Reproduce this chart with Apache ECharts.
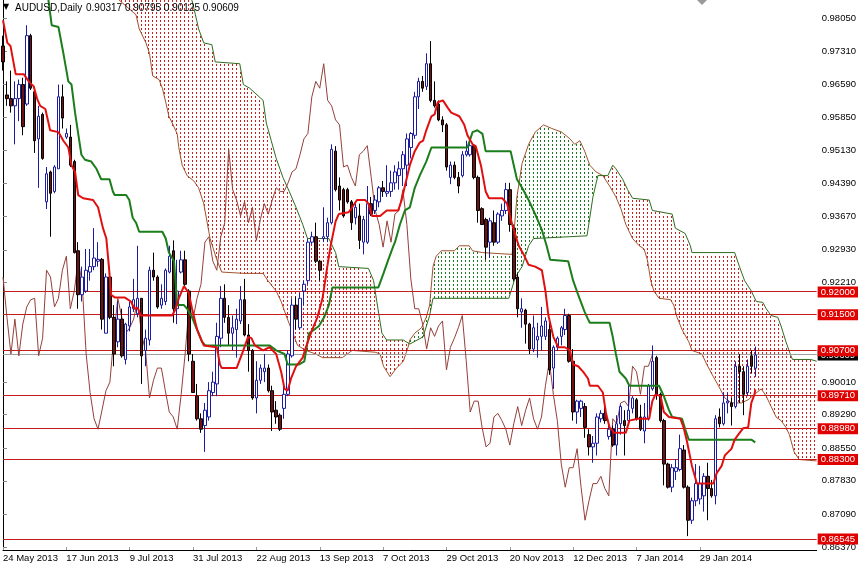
<!DOCTYPE html>
<html><head><meta charset="utf-8">
<script src="https://cdn.jsdelivr.net/npm/echarts@6/dist/echarts.min.js"></script>
<style>html,body{margin:0;padding:0;background:#fff}#c{width:861px;height:566px}</style>
</head><body><div id="c"></div>
<script>
const symbolName = 'AUDUSD,Daily';
const dateLabels = ['24 May 2013','17 Jun 2013','9 Jul 2013','31 Jul 2013','22 Aug 2013','13 Sep 2013','7 Oct 2013','29 Oct 2013','20 Nov 2013','12 Dec 2013','7 Jan 2014','29 Jan 2014'];
const dateLabelBars = [0,16,32,48,64,80,96,112,128,144,160,176];
const priceTicks = [0.9805,0.9731,0.9659,0.9585,0.9513,0.9439,0.9367,0.9293,0.9221,0.9001,0.8929,0.8855,0.8783,0.8709,0.8637];
const levelLines = [0.92,0.915,0.907,0.8971,0.8898,0.883,0.86545];
const bidPrice = 0.90609;

const opens = [0.9743,0.9635,0.9627,0.9611,0.9627,0.9658,0.9615,0.9766,0.9642,0.9538,0.9592,0.9399,0.9465,0.9422,0.9472,0.9631,0.9542,0.9542,0.9488,0.9291,
0.9194,0.9202,0.9244,0.9256,0.9268,0.9272,0.9109,0.9233,0.9144,0.9090,0.9140,0.9051,0.9125,0.9163,0.9152,0.9186,0.9071,0.9094,0.9248,0.9233,
0.9171,0.9179,0.9244,0.9291,0.9163,0.9244,0.9271,0.9202,0.9047,0.8970,0.8920,0.8905,0.8924,0.8978,0.8997,0.9098,0.9186,0.9144,0.9109,0.9117,
0.9136,0.9183,0.9105,0.9071,0.8966,0.9005,0.9024,0.9032,0.8982,0.8939,0.8928,0.8943,0.8974,0.9059,0.9171,0.9121,0.9202,0.9225,0.9310,0.9322,
0.9268,0.9318,0.9322,0.9353,0.9511,0.9434,0.9426,0.9426,0.9399,0.9364,0.9368,0.9310,0.9310,0.9395,0.9380,0.9399,0.9430,0.9418,0.9422,0.9441,
0.9457,0.9472,0.9480,0.9519,0.9546,0.9631,0.9665,0.9654,0.9704,0.9623,0.9615,0.9580,0.9569,0.9453,0.9480,0.9453,0.9457,0.9503,0.9503,0.9523,
0.9453,0.9384,0.9360,0.9310,0.9353,0.9310,0.9368,0.9380,0.9426,0.9341,0.9233,0.9156,0.9160,0.9129,0.9074,0.9094,0.9102,0.9102,0.9117,0.9032,
0.9078,0.9102,0.9117,0.9148,0.9047,0.8935,0.8943,0.8947,0.8885,0.8858,0.8866,0.8920,0.8932,0.8881,0.8897,0.8862,0.8909,0.8916,0.8916,0.8943,
0.8962,0.8924,0.8893,0.8920,0.8986,0.9055,0.8974,0.8916,0.8820,0.8769,0.8804,0.8808,0.8851,0.8769,0.8696,0.8739,0.8743,0.8750,0.8793,0.8766,
0.8750,0.8924,0.8909,0.8955,0.8955,0.8947,0.9036,0.9024,0.8978,0.9059,0.90317];
const highs = [0.9766,0.9665,0.9689,0.9665,0.9669,0.9673,0.9789,0.9770,0.9650,0.9611,0.9596,0.9476,0.9468,0.9480,0.9658,0.9658,0.9561,0.9569,0.9492,0.9310,
0.9256,0.9295,0.9295,0.9341,0.9310,0.9275,0.9241,0.9248,0.9171,0.9179,0.9163,0.9132,0.9179,0.9229,0.9302,0.9186,0.9117,0.9256,0.9287,0.9237,
0.9217,0.9252,0.9302,0.9314,0.9271,0.9291,0.9291,0.9206,0.9063,0.8997,0.8932,0.8955,0.9001,0.9024,0.9132,0.9213,0.9217,0.9171,0.9148,0.9163,
0.9213,0.9229,0.9129,0.9074,0.9047,0.9040,0.9063,0.9040,0.8993,0.8959,0.8932,0.8993,0.9071,0.9186,0.9190,0.9198,0.9225,0.9318,0.9333,0.9353,
0.9271,0.9387,0.9364,0.9526,0.9522,0.9453,0.9430,0.9430,0.9403,0.9395,0.9395,0.9368,0.9434,0.9410,0.9414,0.9434,0.9445,0.9480,0.9468,0.9480,
0.9488,0.9511,0.9550,0.9553,0.9642,0.9673,0.9677,0.9727,0.9754,0.9665,0.9623,0.9588,0.9573,0.9488,0.9488,0.9465,0.9511,0.9534,0.9534,0.9526,
0.9457,0.9387,0.9364,0.9364,0.9380,0.9376,0.9395,0.9441,0.9441,0.9349,0.9241,0.9186,0.9163,0.9132,0.9148,0.9132,0.9167,0.9144,0.9132,0.9082,
0.9102,0.9125,0.9163,0.9152,0.9074,0.8962,0.8962,0.8955,0.8897,0.8882,0.8932,0.8939,0.8947,0.8912,0.8905,0.8928,0.8951,0.8939,0.8993,0.8970,
0.8966,0.8951,0.8955,0.8997,0.9082,0.9059,0.8978,0.8920,0.8823,0.8820,0.8831,0.8885,0.8862,0.8773,0.8746,0.8820,0.8816,0.8800,0.8823,0.8785,
0.8928,0.8943,0.8978,0.8978,0.8966,0.9047,0.9063,0.9036,0.9051,0.9071,0.90795];
const lows = [0.9689,0.9611,0.9596,0.9526,0.9577,0.9546,0.9611,0.9646,0.9507,0.9430,0.9492,0.9383,0.9322,0.9418,0.9472,0.9561,0.9538,0.9476,0.9285,0.9163,
0.9179,0.9198,0.9225,0.9248,0.9256,0.9117,0.9109,0.9140,0.9036,0.9078,0.9055,0.9040,0.9113,0.9156,0.9144,0.8997,0.9036,0.9082,0.9225,0.9163,
0.9163,0.9171,0.9241,0.9132,0.9129,0.9241,0.9210,0.9047,0.8978,0.8916,0.8889,0.8847,0.8916,0.8970,0.8970,0.9078,0.9132,0.9082,0.9071,0.9055,
0.9129,0.9102,0.9024,0.8962,0.8932,0.8997,0.9001,0.8978,0.8893,0.8909,0.8893,0.8920,0.8970,0.9055,0.9117,0.9117,0.9171,0.9217,0.9306,0.9264,
0.9225,0.9310,0.9310,0.9349,0.9422,0.9380,0.9364,0.9395,0.9337,0.9349,0.9295,0.9283,0.9306,0.9368,0.9372,0.9387,0.9410,0.9410,0.9410,0.9426,
0.9426,0.9434,0.9434,0.9495,0.9538,0.9604,0.9642,0.9646,0.9619,0.9607,0.9577,0.9553,0.9468,0.9438,0.9449,0.9418,0.9453,0.9499,0.9499,0.9449,
0.9353,0.9349,0.9271,0.9275,0.9302,0.9306,0.9357,0.9372,0.9333,0.9225,0.9144,0.9121,0.9086,0.9063,0.9067,0.9055,0.9071,0.9094,0.9017,0.8986,
0.9071,0.9082,0.9105,0.9044,0.8916,0.8909,0.8924,0.8878,0.8839,0.8823,0.8839,0.8912,0.8909,0.8874,0.8858,0.8839,0.8885,0.8839,0.8909,0.8932,
0.8916,0.8893,0.8866,0.8916,0.8982,0.8962,0.8912,0.8773,0.8766,0.8758,0.8785,0.8804,0.8766,0.8661,0.8688,0.8727,0.8731,0.8715,0.8696,0.8746,
0.8731,0.8901,0.8905,0.8932,0.8905,0.8943,0.8955,0.8928,0.8970,0.9020,0.90125];
const closes = [0.9708,0.9627,0.9611,0.9627,0.9658,0.9565,0.9766,0.9650,0.9534,0.9588,0.9495,0.9461,0.9418,0.9476,0.9631,0.9584,0.9550,0.9480,0.9287,0.9194,
0.9233,0.9248,0.9256,0.9275,0.9272,0.9140,0.9233,0.9144,0.9063,0.9140,0.9059,0.9129,0.9167,0.9183,0.9186,0.9059,0.9098,0.9248,0.9233,0.9167,
0.9186,0.9248,0.9279,0.9163,0.9202,0.9271,0.9217,0.9063,0.8978,0.8920,0.8897,0.8939,0.8982,0.9001,0.9102,0.9186,0.9144,0.9109,0.9121,0.9140,
0.9183,0.9105,0.9071,0.8966,0.9005,0.9032,0.9032,0.8982,0.8935,0.8924,0.8897,0.8974,0.9063,0.9171,0.9140,0.9186,0.9217,0.9310,0.9322,0.9268,
0.9248,0.9322,0.9353,0.9515,0.9426,0.9403,0.9368,0.9399,0.9353,0.9387,0.9314,0.9360,0.9395,0.9372,0.9403,0.9430,0.9422,0.9422,0.9441,0.9465,
0.9472,0.9503,0.9538,0.9550,0.9631,0.9665,0.9650,0.9704,0.9623,0.9611,0.9580,0.9569,0.9476,0.9480,0.9453,0.9434,0.9503,0.9511,0.9523,0.9453,
0.9380,0.9349,0.9299,0.9357,0.9310,0.9372,0.9380,0.9426,0.9349,0.9229,0.9163,0.9163,0.9129,0.9074,0.9121,0.9102,0.9125,0.9136,0.9028,0.9078,
0.9098,0.9121,0.9148,0.9047,0.8935,0.8959,0.8959,0.8901,0.8858,0.8866,0.8924,0.8932,0.8916,0.8897,0.8862,0.8909,0.8947,0.8905,0.8939,0.8966,
0.8920,0.8897,0.8924,0.8993,0.9047,0.8974,0.8916,0.8820,0.8769,0.8812,0.8812,0.8854,0.8769,0.8696,0.8739,0.8777,0.8777,0.8793,0.8766,0.8750,
0.8920,0.8909,0.8955,0.8959,0.8947,0.9036,0.9024,0.8974,0.9036,0.9036,0.90609];

// Ichimoku lines: [bar index, price]
const tenkan = [[0,0.9800],[0.25,0.9797],[1.1,0.9750],[1.9,0.9743],[3.2,0.9681],[5.25,0.9681],[6.5,0.9665],[7.75,0.9654],[8.6,0.9627],[9.4,0.9611],[10.7,0.9604],[11.9,0.9557],[14,0.9553],[15.25,0.9534],[16.5,0.9519],[17.3,0.9480],[18.2,0.9465],[19,0.9414],[20.25,0.9407],[22.75,0.9403],[24,0.9387],[25.25,0.9341],[26.1,0.9318],[26.75,0.9256],[27.3,0.9194],[28.2,0.9188],[30.7,0.9188],[32.3,0.9179],[33.2,0.9163],[34,0.9165],[34.8,0.9148],[42.75,0.9148],[43.6,0.9163],[44.4,0.9186],[45.7,0.9213],[46.9,0.9198],[47.75,0.9163],[49,0.9118],[49.8,0.9101],[50.7,0.9082],[54,0.9078],[54.8,0.9040],[55.25,0.9032],[59,0.9032],[60.7,0.9071],[61.9,0.9101],[62.75,0.9098],[63.6,0.9082],[65.7,0.9071],[67.3,0.9078],[69,0.9063],[70.25,0.9024],[71.1,0.8986],[71.9,0.8982],[72.75,0.9009],[74,0.9036],[75.7,0.9055],[76.5,0.9078],[77.75,0.9109],[79.4,0.9144],[80.7,0.9186],[81.9,0.9256],[82.75,0.9302],[84,0.9356],[84.8,0.9372],[87.3,0.9376],[88.2,0.9387],[89.4,0.9403],[91.5,0.9403],[92.3,0.9395],[93.2,0.9368],[95.25,0.9368],[96.9,0.9380],[99.8,0.9380],[100.7,0.9403],[101.5,0.9434],[102.75,0.9480],[104,0.9511],[105.25,0.9530],[106.1,0.9534],[106.9,0.9557],[108.2,0.9588],[109,0.9592],[109.8,0.9619],[111.1,0.9623],[112.3,0.9607],[113.2,0.9596],[115.25,0.9588],[116.5,0.9569],[117.3,0.9546],[118.6,0.9526],[119.4,0.9522],[120.7,0.9480],[121.9,0.9422],[122.75,0.9407],[126.1,0.9407],[127.3,0.9395],[128.6,0.9349],[130.25,0.9302],[131.5,0.9283],[132.75,0.9260],[134.4,0.9256],[136.1,0.9248],[137,0.9202],[137.75,0.9148],[139,0.9101],[140.25,0.9078],[141.9,0.9078],[143.2,0.9071],[144,0.9040],[145.25,0.9036],[146.5,0.9024],[147.75,0.9009],[148.2,0.8993],[150.25,0.8993],[151.5,0.8978],[152.3,0.8932],[153.2,0.8901],[154.4,0.8889],[157.3,0.8889],[158.2,0.8916],[160.25,0.8920],[163.2,0.8920],[164,0.8959],[164.8,0.8974],[166.1,0.8970],[166.9,0.8935],[168.2,0.8924],[171.1,0.8920],[171.9,0.8901],[172.75,0.8870],[174,0.8816],[175.25,0.8777],[179.4,0.8777],[180.25,0.8800],[181.5,0.8816],[182.3,0.8839],[183.2,0.8847],[184,0.8854],[184.8,0.8874],[185.7,0.8885],[186.9,0.8899],[188.2,0.8901],[189,0.8955],[189.8,0.8974],[190,0.8985]];
const kijun = [[11.3,0.9855],[11.5,0.9843],[12.3,0.9789],[14,0.9785],[15.25,0.9727],[16.5,0.9665],[17.3,0.9658],[18.2,0.9596],[19,0.9549],[19.8,0.9503],[20.7,0.9492],[22.3,0.9488],[23.6,0.9472],[24.8,0.9449],[26.9,0.9449],[27.75,0.9422],[28.2,0.9414],[31.1,0.9414],[31.9,0.9403],[32.75,0.9364],[33.6,0.9353],[34.4,0.9333],[40.25,0.9333],[41.1,0.9318],[41.9,0.9287],[43.2,0.9268],[44,0.9171],[45.7,0.9171],[46.5,0.9163],[47.75,0.9144],[50.25,0.9090],[51.1,0.9082],[67.3,0.9082],[69,0.9071],[71.1,0.9063],[71.9,0.9040],[74.8,0.9040],[76.1,0.9047],[77.3,0.9109],[78.6,0.9117],[79.8,0.9125],[81.1,0.9144],[82.3,0.9171],[83.2,0.9210],[94.8,0.9210],[96.1,0.9241],[97.3,0.9271],[98.6,0.9302],[99,0.9310],[100.25,0.9349],[101.5,0.9380],[102.75,0.9387],[104,0.9430],[105.25,0.9457],[106.9,0.9488],[108.2,0.9519],[117.3,0.9519],[118.6,0.9553],[119.8,0.9557],[121.1,0.9549],[121.9,0.9511],[128.2,0.9511],[129,0.9480],[129.8,0.9449],[131.1,0.9430],[132.75,0.9403],[134.4,0.9372],[136.1,0.9337],[137.3,0.9302],[138.2,0.9271],[142.75,0.9268],[144,0.9225],[145.25,0.9194],[146.9,0.9156],[147.75,0.9140],[148.2,0.9132],[153.2,0.9132],[154,0.9101],[154.8,0.9063],[155.7,0.9024],[157.3,0.9009],[158.2,0.8993],[165.7,0.8993],[166.9,0.8970],[168.2,0.8939],[169,0.8924],[171.5,0.8920],[172.3,0.8897],[173.2,0.8874],[189,0.8874],[190,0.8868]];
const spanA = [[0,0.9980],[28.5,0.9851],[33.6,0.9812],[34.4,0.9781],[36.1,0.9750],[37,0.9727],[37.8,0.9677],[39.4,0.9669],[40.25,0.9650],[41.1,0.9619],[41.9,0.9588],[42.75,0.9573],[44,0.9549],[44.4,0.9519],[45.25,0.9480],[46.5,0.9457],[48.2,0.9445],[49.4,0.9430],[50.7,0.9395],[52.3,0.9318],[54,0.9271],[55.25,0.9244],[61.1,0.9241],[65.7,0.9241],[66.9,0.9225],[69,0.9202],[70.25,0.9179],[71.5,0.9148],[73.2,0.9109],[74.4,0.9082],[76.5,0.9071],[79,0.9063],[80.7,0.9055],[85.7,0.9055],[88.2,0.9071],[94,0.9067],[95.25,0.9063],[96.1,0.9036],[97.75,0.9013],[99.4,0.9032],[101.1,0.9047],[102.3,0.9078],[102.75,0.9094],[104,0.9109],[105.7,0.9121],[106.9,0.9144],[107.75,0.9171],[108.6,0.9256],[109.4,0.9279],[110.7,0.9291],[114,0.9291],[115.25,0.9302],[117.75,0.9302],[118.6,0.9291],[121.1,0.9287],[128.6,0.9283],[129.8,0.9410],[131.1,0.9484],[132.75,0.9526],[134.4,0.9553],[136.5,0.9569],[138.6,0.9561],[141.1,0.9553],[143.2,0.9538],[144.4,0.9526],[145.7,0.9534],[146.9,0.9511],[148.2,0.9480],[149.8,0.9465],[151.5,0.9457],[153.2,0.9434],[154.8,0.9410],[156.1,0.9383],[157.3,0.9349],[159,0.9318],[160.7,0.9302],[161.9,0.9295],[162.75,0.9271],[163.6,0.9225],[164.4,0.9202],[165.7,0.9186],[168.6,0.9183],[169.4,0.9171],[170.25,0.9144],[171.5,0.9117],[173.2,0.9090],[174,0.9071],[176.5,0.9063],[177.75,0.9040],[179.4,0.9013],[180.7,0.8993],[182.3,0.8966],[184,0.8955],[186.5,0.8955],[188.2,0.8962],[189.8,0.8974],[191.5,0.8986],[192.75,0.8970],[194,0.8947],[195.25,0.8924],[196.5,0.8916],[197.75,0.8901],[198.6,0.8885],[199.8,0.8847],[201.1,0.8830],[205.5,0.8827]];
const spanB = [[0,1.0100],[40,0.9950],[47.75,0.9843],[48.6,0.9812],[49.4,0.9781],[50.7,0.9750],[52.75,0.9746],[53.6,0.9708],[59.8,0.9704],[60.7,0.9658],[62.3,0.9650],[65.7,0.9623],[66.5,0.9573],[67.75,0.9534],[69,0.9495],[70.7,0.9453],[72.3,0.9422],[74,0.9387],[75.7,0.9349],[76.9,0.9318],[82.3,0.9318],[84,0.9287],[84.8,0.9256],[92.3,0.9252],[93.6,0.9225],[94.4,0.9179],[95.7,0.9109],[96.9,0.9094],[101.1,0.9094],[102.75,0.9085],[106.1,0.9101],[107.75,0.9148],[108.6,0.9186],[127.75,0.9186],[129.4,0.9233],[131.1,0.9256],[132.75,0.9302],[134,0.9318],[147.5,0.9324],[149,0.9410],[150.25,0.9457],[152.75,0.9457],[154,0.9480],[154.8,0.9472],[156.5,0.9449],[157.75,0.9426],[159,0.9407],[163.2,0.9403],[164,0.9380],[169,0.9372],[169.8,0.9341],[172.3,0.9329],[173.6,0.9302],[174,0.9287],[184.8,0.9287],[186,0.9256],[187.3,0.9225],[189,0.9202],[190.25,0.9179],[191.9,0.9177],[192.75,0.9163],[194,0.9148],[195.7,0.9144],[196.5,0.9125],[197.75,0.9090],[199,0.9059],[199.4,0.9051],[204,0.9051],[205.5,0.9047]];
const chikouShift = 26;
const cloudBarCount = 206;

const Y_MIN = 0.86303, Y_MAX = 0.98447;
const X_MIN = 0, X_MAX = 205.5;
const FONT = 'Liberation Sans';
const KUMO_DOWN = '#d21c1c', KUMO_UP = '#1c781c';

const candleData = opens.map((o, i) => [i, o, closes[i], lows[i], highs[i]]);
const chikou = closes.slice(chikouShift).map((c, j) => [j, c]);
const cloudBars = Array.from({length: cloudBarCount}, (_, i) => [i]);

function along(pts, x) {
  if (x <= pts[0][0]) return pts[0][1];
  for (let k = 1; k < pts.length; k++) {
    if (x <= pts[k][0]) {
      const [x0, y0] = pts[k - 1], [x1, y1] = pts[k];
      return y0 + (y1 - y0) * (x - x0) / (x1 - x0);
    }
  }
  return pts[pts.length - 1][1];
}

function hLineRenderer(color) {
  return (params, api) => {
    const cs = params.coordSys;
    const y = Math.floor(api.coord([api.value(0), api.value(1)])[1]) + 0.5;
    return {type: 'line', shape: {x1: cs.x, y1: y, x2: cs.x + cs.width, y2: y},
      style: {stroke: color, lineWidth: 1, fill: null}};
  };
}

const chart = echarts.init(document.getElementById('c'), null, {renderer: 'canvas'});
const last = closes.length - 1;
const fmt = v => Number(v).toFixed(5);

chart.setOption({
  animation: false,
  backgroundColor: '#ffffff',
  grid: {left: 0, right: 39, top: 0, bottom: 16, containLabel: false},
  xAxis: {
    type: 'value', min: X_MIN, max: X_MAX, position: 'bottom',
    splitLine: {show: false},
    axisLine: {show: true, onZero: false, lineStyle: {color: '#000', width: 1}},
    axisTick: {show: true, inside: true, length: 3, customValues: dateLabelBars, lineStyle: {color: '#999'}},
    axisLabel: {
      customValues: dateLabelBars, align: 'left', margin: 3,
      fontFamily: FONT, fontSize: 9.5, color: '#000',
      formatter: v => dateLabels[dateLabelBars.indexOf(Math.round(v))] || ''
    }
  },
  yAxis: [
    {
      type: 'value', position: 'right', min: Y_MIN, max: Y_MAX,
      splitLine: {show: false},
      axisLine: {show: true, lineStyle: {color: '#000', width: 1}},
      axisTick: {show: true, length: 4, customValues: priceTicks, lineStyle: {color: '#888'}},
      axisLabel: {customValues: priceTicks, formatter: fmt, fontFamily: FONT, fontSize: 9.5, color: '#000', margin: 5}
    },
    {
      type: 'value', position: 'right', min: Y_MIN, max: Y_MAX, z: 4,
      splitLine: {show: false}, axisLine: {show: false}, axisTick: {show: false},
      axisLabel: {customValues: [bidPrice], formatter: fmt, fontFamily: FONT, fontSize: 9.5,
        color: '#fff', backgroundColor: '#000', padding: [1, 3, 0, 3], margin: 1}
    },
    {
      type: 'value', position: 'right', min: Y_MIN, max: Y_MAX, z: 6,
      splitLine: {show: false}, axisLine: {show: false}, axisTick: {show: false},
      axisLabel: {customValues: levelLines, formatter: fmt, fontFamily: FONT, fontSize: 9.5,
        color: '#fff', backgroundColor: '#e00000', padding: [1, 3, 0, 3], margin: 1}
    }
  ],
  graphic: [
    {type: 'text', left: 3, top: 3, z: 100, style: {text: '\u25BC', fontSize: 8, fill: '#000', fontFamily: 'DejaVu Sans'}},
    {type: 'text', left: 15, top: 3, z: 100, style: {text: symbolName, fontSize: 10, fill: '#000', fontFamily: FONT}},
    {type: 'text', left: 86, top: 3, z: 100, style: {text: [opens[last], highs[last], lows[last], closes[last]].map(fmt).join(' '), fontSize: 10, fill: '#000', fontFamily: FONT}},
    {type: 'polygon', z: 100, shape: {points: [[697, 0], [707, 0], [702, 5]]}, style: {fill: '#9a9a9a'}}
  ],
  series: [
    {
      type: 'custom', name: 'kumo', data: cloudBars, encode: {x: 0}, z: 1, silent: true,
      renderItem: (params, api) => {
        const i = api.value(0);
        const a = along(spanA, i), b = along(spanB, i);
        const pa = api.coord([i, a]), pb = api.coord([i, b]);
        const cs = params.coordSys;
        const x = Math.round(pa[0]) - 1;
        const children = [];
        if (x >= cs.x - 1 && x < cs.x + cs.width) {
          const y1 = Math.max(Math.min(pa[1], pb[1]), cs.y);
          const y2 = Math.min(Math.max(pa[1], pb[1]), cs.y + cs.height);
          const fill = b > a ? KUMO_DOWN : KUMO_UP;
          for (let y = Math.ceil(y1 / 4) * 4; y + 1 <= y2; y += 4) {
            children.push({type: 'rect', shape: {x: x, y: y, width: 1, height: 2}, style: {fill: fill, stroke: null}});
          }
        }
        return {type: 'group', children: children};
      }
    },
    {type: 'line', name: 'Senkou A', data: spanA, symbol: 'none', z: 2, silent: true,
      lineStyle: {color: '#a0522d', width: 1}},
    {type: 'line', name: 'Senkou B', data: spanB, symbol: 'none', z: 2, silent: true,
      lineStyle: {color: '#2e6b1e', width: 1}},
    {type: 'custom', name: 'levels', data: levelLines.map(v => [X_MIN, v]), encode: {x: 0, y: 1}, z: 3, silent: true,
      renderItem: hLineRenderer('#c41a1a')},
    {type: 'custom', name: 'bid', data: [[X_MIN, bidPrice]], encode: {x: 0, y: 1}, z: 3, silent: true,
      renderItem: hLineRenderer('#a0a0a0')},
    {type: 'line', name: 'Chikou', data: chikou, symbol: 'none', z: 3, silent: true,
      lineStyle: {color: '#94403a', width: 1}},
    {type: 'candlestick', name: symbolName, data: candleData, encode: {x: 0, y: [1, 2, 3, 4]},
      barWidth: 3, z: 4, silent: true,
      itemStyle: {color: '#ffffff', color0: '#701010', borderColor: '#1c1ca0', borderColor0: '#000000', borderWidth: 1}},
    {type: 'line', name: 'Kijun', data: kijun, symbol: 'none', z: 5, silent: true,
      lineStyle: {color: '#1b7d1b', width: 2}},
    {type: 'line', name: 'Tenkan', data: tenkan, symbol: 'none', z: 6, silent: true,
      lineStyle: {color: '#e01010', width: 2}}
  ]
});
</script>
</body></html>
